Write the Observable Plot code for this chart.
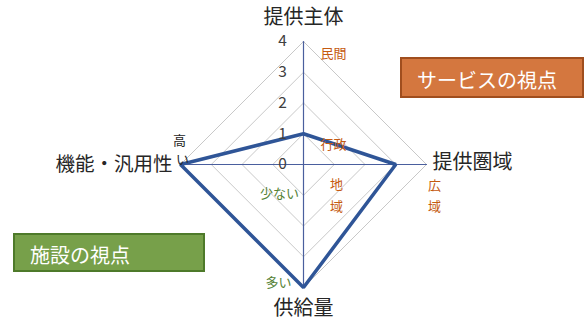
<!DOCTYPE html>
<html>
<head>
<meta charset="utf-8">
<script src="https://cdn.jsdelivr.net/npm/d3@7"></script>
<script src="https://cdn.jsdelivr.net/npm/@observablehq/plot@0.6"></script>
<style>
  html, body { margin: 0; padding: 0; background: #fff; }
  #wrap { position: relative; width: 585px; height: 320px; overflow: hidden; font-family: "Noto Sans CJK JP", sans-serif; }
  .box { position: absolute; color: #fff; font-size: 20px; line-height: 1; display: flex; align-items: center; box-sizing: border-box; padding-left: 15px; padding-top: 4px; }
</style>
</head>
<body>
<div id="wrap"></div>
<script>
// ---- data ----
const axes = ["提供主体", "提供圏域", "供給量", "機能・汎用性"];
const values = [1, 3, 4, 4];
const ticks = [0, 1, 2, 3, 4];
const rMax = 4;
const boxLabels = ["サービスの視点", "施設の視点"];

// angles: top, right, bottom, left
const angles = [90, 0, -90, 180].map(d => d * Math.PI / 180);
const pt = (i, r) => ({x: r * Math.cos(angles[i]), y: r * Math.sin(angles[i])});

const grid = [];
for (const t of ticks.filter(t => t > 0)) {
  for (let i = 0; i <= axes.length; i++) grid.push({...pt(i % axes.length, t), ring: t});
}
const spokes = axes.flatMap((a, i) => [{...pt(i, 0), a}, {...pt(i, rMax), a}]);
const series = [...values, values[0]].map((v, i) => pt(i % axes.length, v));

const k = 30.75; // px per unit
const cx = 303, cy = 164;
const W = 585, H = 320;

const ORANGE = "#C55A11", GREEN = "#548235", DARK = "#262626";

const lab = (text, x, y, dx, dy, fill, fontSize = 13, textAnchor = "middle") =>
  Plot.text([text], {x: () => x, y: () => y, dx, dy, text: d => d, fontSize, fill, textAnchor});

const plot = Plot.plot({
  width: W, height: H,
  margin: 0,
  x: {domain: [-cx / k, (W - cx) / k], range: [0, W], axis: null},
  y: {domain: [-(H - cy) / k, cy / k], range: [H, 0], axis: null},
  style: {fontFamily: "'Noto Sans CJK JP', sans-serif", background: "transparent"},
  marks: [
    Plot.line(grid, {x: "x", y: "y", z: "ring", stroke: "#C8C8C8", strokeWidth: 1}),
    Plot.line(spokes, {x: "x", y: "y", z: "a", stroke: "#4A5F9E", strokeWidth: 1.2}),
    Plot.line(series, {x: "x", y: "y", stroke: "#2F5597", strokeWidth: 3.5, strokeLinejoin: "miter"}),
    Plot.text(ticks, {x: () => -0.68, y: d => d, text: d => String(d), fontSize: 15.5, fill: "#404040"}),
    // axis titles
    lab(axes[0], 0, rMax, 0, -24, DARK, 20),
    lab(axes[1], rMax, 0, 6, -2, DARK, 20, "start"),
    lab(axes[2], 0, -rMax, 0, 21, DARK, 20),
    lab(axes[3], -rMax, 0, -8, 0, DARK, 19.5, "end"),
    // annotations
    lab("民間", 0, rMax, 30, 12, ORANGE),
    lab("行政", 0, 1, 30, 11, ORANGE),
    lab("地", 0, 0, 33, 20, ORANGE),
    lab("域", 0, 0, 33, 42, ORANGE),
    lab("広", rMax, 0, 8, 21, ORANGE),
    lab("域", rMax, 0, 8, 42, ORANGE),
    lab("少ない", 0, 0, -24, 29, GREEN),
    lab("多い", 0, -rMax, -25, -5, GREEN),
    lab("高", -rMax, 0, -1, -24, DARK),
    lab("い", -rMax, 0, 2, -5, DARK)
  ]
});

const wrap = document.getElementById("wrap");
wrap.appendChild(plot);

const b1 = document.createElement("div");
b1.className = "box";
b1.textContent = boxLabels[0];
Object.assign(b1.style, {left: "400px", top: "57px", width: "184px", height: "41px", background: "#D4773F", border: "2px solid #A04E1E"});
wrap.appendChild(b1);

const b2 = document.createElement("div");
b2.className = "box";
b2.textContent = boxLabels[1];
Object.assign(b2.style, {left: "13px", top: "233px", width: "192px", height: "39px", background: "#77A04A", border: "2px solid #4E7A2A"});
wrap.appendChild(b2);
</script>
</body>
</html>
